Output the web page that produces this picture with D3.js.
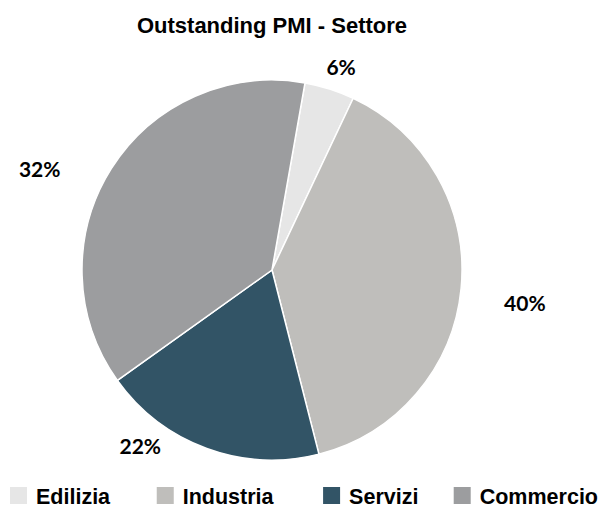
<!DOCTYPE html>
<html>
<head>
<meta charset="utf-8">
<script src="https://cdn.jsdelivr.net/npm/d3@7/dist/d3.min.js"></script>
<style>
    body { margin: 0; background: #fff; }
    svg text { font-family: "Liberation Sans", Arial, sans-serif; font-weight: bold; fill: #000; }
    svg text.pct { font-family: Lato, "Liberation Sans", sans-serif; }
</style>
</head>
<body>
<div id="chart"></div>
<script>
// dati
const categories = ["Edilizia", "Industria", "Servizi", "Commercio"];
const shares = [4.25, 39.0, 19.1, 37.65];          // ampiezza delle fette
const labels = ["6%", "40%", "22%", "32%"];        // etichette come stampate
const colors = ["#e6e6e6", "#bfbebb", "#325466", "#9c9d9f"];
const title = "Outstanding PMI - Settore";

const width = 601;
const height = 508;
const cx = 272;
const cy = 270;
const radius = 190;

const data = categories.map((c, i) => ({ name: c, value: shares[i], label: labels[i], color: colors[i] }));

const svg = d3.select("#chart").append("svg")
    .attr("width", width)
    .attr("height", height);

svg.append("text")
    .attr("x", cx)
    .attr("y", 33)
    .attr("text-anchor", "middle")
    .style("font-size", "22px")
    .text(title);

const start = 10 * Math.PI / 180;
const pie = d3.pie()
    .sort(null)
    .value(d => d.value)
    .startAngle(start)
    .endAngle(start + 2 * Math.PI);

const arc = d3.arc().innerRadius(0).outerRadius(radius);

const g = svg.append("g").attr("transform", `translate(${cx},${cy})`);
const arcs = pie(data);

g.selectAll("path")
    .data(arcs)
    .join("path")
    .attr("d", arc)
    .attr("fill", d => d.data.color)
    .attr("stroke", "#fff")
    .attr("stroke-width", 1.5);

// etichette spostate a mano come nell'originale
const labelLayout = {
    Edilizia: { shift: 1.2, r: 214 },
    Industria: { shift: 2, r: 255 },
    Servizi: { shift: 16.7, r: 220 },
    Commercio: { shift: -8.9, r: 253 }
};

function labelPos(d) {
    const l = labelLayout[d.data.name];
    const a = (d.startAngle + d.endAngle) / 2 + l.shift * Math.PI / 180;
    return [Math.sin(a) * l.r, -Math.cos(a) * l.r];
}

g.selectAll("text.pct")
    .data(arcs)
    .join("text")
    .attr("class", "pct")
    .attr("text-anchor", "middle")
    .attr("dy", "0.36em")
    .style("font-size", "21px")
    .attr("x", d => labelPos(d)[0])
    .attr("y", d => labelPos(d)[1])
    .text(d => d.data.label);

// legenda
const legend = svg.append("g");
const items = legend.selectAll("g")
    .data(data)
    .join("g");

items.append("rect")
    .attr("x", 0)
    .attr("y", 487)
    .attr("width", 17)
    .attr("height", 17)
    .attr("fill", d => d.color);

items.append("text")
    .attr("x", 26)
    .attr("y", 504)
    .style("font-size", "21.5px")
    .text(d => d.name);

// centri delle voci a passo costante, tra margine sinistro e destro
const widths = [];
items.each(function () { widths.push(this.getBBox().width); });
const n = widths.length;
const c0 = 10 + widths[0] / 2;
const c1 = 598 - widths[n - 1] / 2;
items.attr("transform", (d, i) => {
    const c = c0 + (c1 - c0) * i / (n - 1);
    return `translate(${c - widths[i] / 2},0)`;
});
</script>
</body>
</html>
